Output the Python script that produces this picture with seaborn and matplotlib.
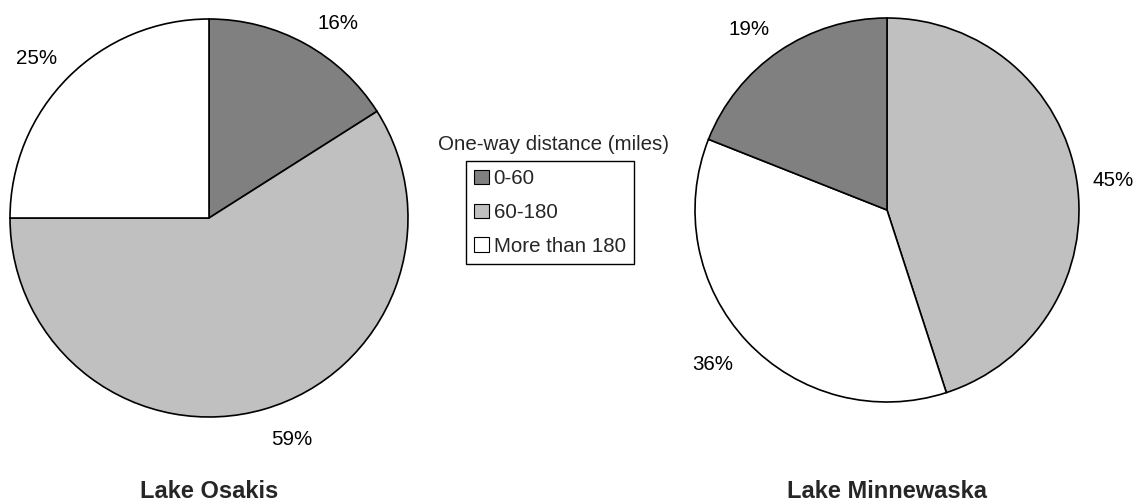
import matplotlib
matplotlib.use("Agg")
import numpy as np
import matplotlib.pyplot as plt
from matplotlib.patches import Patch
import seaborn as sns

# Share of visitors by one-way travel distance
categories = ["0-60", "60-180", "More than 180"]
osakis_pct = [16, 59, 25]          # 0-60, 60-180, More than 180
minnewaska_pct = [19, 45, 36]      # 0-60, 60-180, More than 180
lakes = ["Lake Osakis", "Lake Minnewaska"]
legend_title = "One-way distance (miles)"

sns.set_theme(style="white")
plt.rcParams["font.family"] = ["Liberation Sans", "DejaVu Sans"]

palette = {"0-60": "#808080", "60-180": "#c0c0c0", "More than 180": "#ffffff"}

W, H = 1138, 504
fig = plt.figure(figsize=(W / 100, H / 100), dpi=100)
fig.patch.set_facecolor("white")

TEXT_SIZE = 14.8


def pie_axes(cx, cy, r):
    # square axes in pixel units, y measured from the top
    return fig.add_axes([(cx - r) / W, (H - cy - r) / H, 2 * r / W, 2 * r / H])


def draw_pie(ax, values, order, label_spots, title, title_x):
    vals = [values[categories.index(c)] for c in order]
    cols = [palette[c] for c in order]
    wedges, texts, autotexts = ax.pie(
        vals, colors=cols, startangle=90, counterclock=False, radius=1,
        autopct="%1.0f%%", pctdistance=1.19,
        wedgeprops=dict(edgecolor="black", linewidth=1.2),
        textprops=dict(fontsize=TEXT_SIZE, color="black"),
    )
    for w in wedges:
        w.set_clip_on(False)
    # percentage labels sit just outside the rim (angle clockwise from top, radius)
    for t, (ang, dist) in zip(autotexts, label_spots):
        a = np.deg2rad(ang)
        t.set_position((dist * np.sin(a), dist * np.cos(a) - 0.01))
    ax.set_xlim(-1, 1)
    ax.set_ylim(-1, 1)
    ax.set_aspect("equal")
    ax.axis("off")
    fig.text(title_x / W, 1 - 491 / H, title, ha="center", va="center",
             fontsize=17, fontweight="bold")


ax1 = pie_axes(209, 218, 199)
draw_pie(ax1, osakis_pct, ["0-60", "60-180", "More than 180"],
         [(33.2, 1.18), (159.3, 1.18), (313.1, 1.19)], lakes[0], 209)

ax2 = pie_axes(887, 210, 192)
draw_pie(ax2, minnewaska_pct, ["60-180", "More than 180", "0-60"],
         [(82.2, 1.19), (228.8, 1.21), (323.0, 1.19)], lakes[1], 887)

handles = [Patch(facecolor=palette[c], edgecolor="black", linewidth=0.8) for c in categories]
leg = fig.legend(
    handles, categories, loc="center", bbox_to_anchor=(550 / W, 1 - 212.5 / H),
    fontsize=TEXT_SIZE, frameon=True, fancybox=False, shadow=False,
    handlelength=0.7, handleheight=0.7, handletextpad=0.25,
    labelspacing=0.72, borderpad=0.4, borderaxespad=0,
)
frame = leg.get_frame()
frame.set_edgecolor("black")
frame.set_linewidth(1.0)
frame.set_facecolor("white")
frame.set_alpha(1)

fig.text(554 / W, 1 - 144 / H, legend_title, ha="center", va="center", fontsize=TEXT_SIZE)

fig.savefig("out.png", dpi=100, facecolor="white")
